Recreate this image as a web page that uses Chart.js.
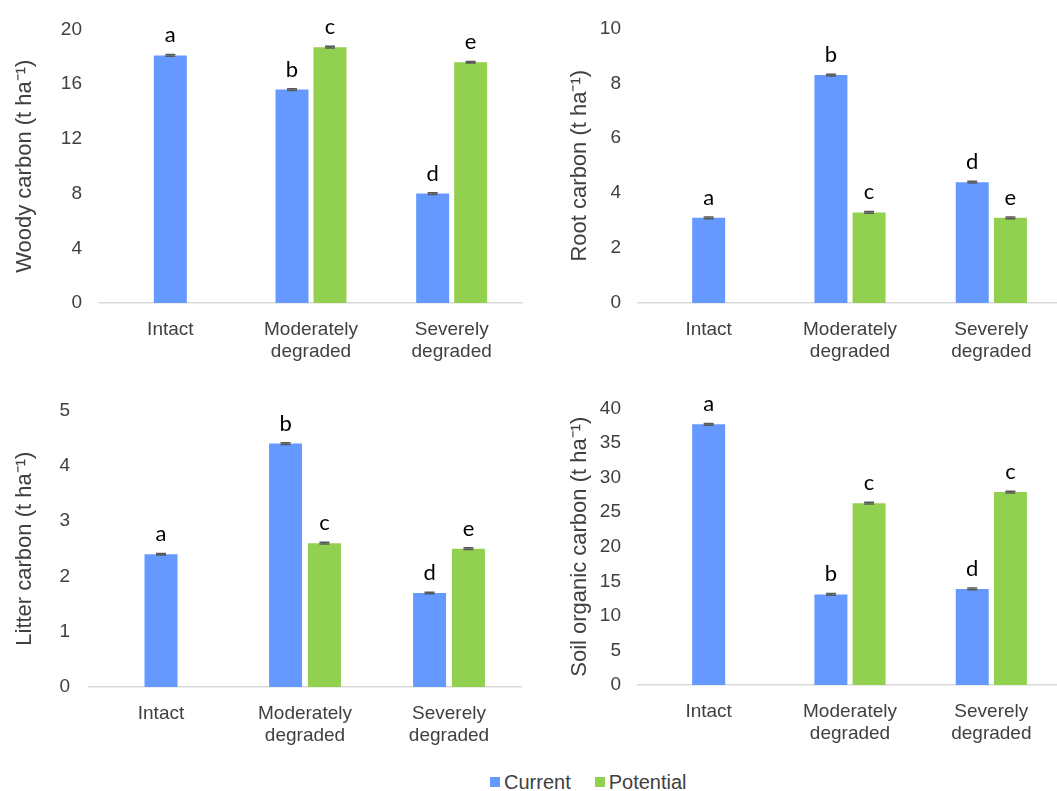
<!DOCTYPE html>
<html>
<head>
<meta charset="utf-8">
<script src="https://cdn.jsdelivr.net/npm/chart.js@4"></script>
<style>
  body { margin: 0; background: #fff; width: 1057px; height: 791px; overflow: hidden; position: relative;
         font-family: "Liberation Sans", Arial, sans-serif; }
  .panel { position: absolute; }
  #legend { position: absolute; top: 772px; left: 490px; height: 20px; display: flex; align-items: center;
            font-size: 20px; line-height: 20px; color: #404040; white-space: nowrap; }
  #legend .sw { display: inline-block; width: 10px; height: 10px; margin-right: 4px; }
  #legend .gap { width: 24px; }
</style>
</head>
<body>
<div class="panel" style="left:0;top:0"><canvas id="woody" width="530" height="380"></canvas></div>
<div class="panel" style="left:530px;top:0"><canvas id="root" width="540" height="380"></canvas></div>
<div class="panel" style="left:0;top:380px"><canvas id="litter" width="530" height="390"></canvas></div>
<div class="panel" style="left:530px;top:380px"><canvas id="soc" width="540" height="390"></canvas></div>
<div id="legend">
  <span class="sw" style="background:#6699ff"></span><span>Current</span>
  <span class="gap"></span>
  <span class="sw" style="background:#92d050"></span><span>Potential</span>
</div>
<script>
const categories = [['Intact'], ['Moderately', 'degraded'], ['Severely', 'degraded']];

const woodyCurrent = [18.1, 15.6, 8.0];
const woodyPotential = [null, 18.7, 17.6];
const woodyErrCurrent = [0.06, 0.06, 0.06];
const woodyErrPotential = [null, 0.06, 0.06];
const woodyLettersCurrent = ['a', 'b', 'd'];
const woodyLettersPotential = [null, 'c', 'e'];

const rootCurrent = [3.1, 8.3, 4.4];
const rootPotential = [null, 3.3, 3.1];
const rootErrCurrent = [0.03, 0.03, 0.03];
const rootErrPotential = [null, 0.03, 0.03];
const rootLettersCurrent = ['a', 'b', 'd'];
const rootLettersPotential = [null, 'c', 'e'];

const litterCurrent = [2.4, 4.4, 1.7];
const litterPotential = [null, 2.6, 2.5];
const litterErrCurrent = [0.015, 0.015, 0.015];
const litterErrPotential = [null, 0.015, 0.015];
const litterLettersCurrent = ['a', 'b', 'd'];
const litterLettersPotential = [null, 'c', 'e'];

const socCurrent = [37.7, 13.1, 13.9];
const socPotential = [null, 26.3, 27.9];
const socErrCurrent = [0.12, 0.12, 0.12];
const socErrPotential = [null, 0.12, 0.12];
const socLettersCurrent = ['a', 'b', 'd'];
const socLettersPotential = [null, 'c', 'c'];

const BLUE = '#6699ff';
const GREEN = '#92d050';
const TEXT = '#404040';

// error caps + significance letters on top of every bar
const marks = {
  id: 'marks',
  afterDatasetsDraw(chart) {
    const ctx = chart.ctx;
    const y = chart.scales.y;
    chart.data.datasets.forEach((ds, di) => {
      const meta = chart.getDatasetMeta(di);
      meta.data.forEach((bar, i) => {
        const v = ds.data[i];
        if (v == null) return;
        const e = ds.errors[i] || 0;
        const yt = y.getPixelForValue(v + e);
        const yb = y.getPixelForValue(v - e);
        ctx.save();
        ctx.strokeStyle = '#595959';
        ctx.lineWidth = 1.5;
        ctx.beginPath();
        ctx.moveTo(bar.x - 5, yt); ctx.lineTo(bar.x + 5, yt);
        ctx.moveTo(bar.x - 5, yb); ctx.lineTo(bar.x + 5, yb);
        ctx.moveTo(bar.x, yt); ctx.lineTo(bar.x, yb);
        ctx.stroke();
        if (ds.letters[i]) {
          ctx.fillStyle = '#000';
          ctx.font = '22px Lato, "Open Sans", sans-serif';
          ctx.textAlign = 'center';
          ctx.textBaseline = 'alphabetic';
          ctx.fillText(ds.letters[i], bar.x, y.getPixelForValue(v) - 13);
        }
        ctx.restore();
      });
    });
  }
};

function makePanel(id, title, cur, pot, errCur, errPot, letCur, letPot, yMax, yStep, lay) {
  return new Chart(document.getElementById(id), {
    type: 'bar',
    data: {
      labels: categories,
      datasets: [
        { label: 'Current', data: cur, errors: errCur, letters: letCur, backgroundColor: BLUE },
        { label: 'Potential', data: pot, errors: errPot, letters: letPot, backgroundColor: GREEN }
      ]
    },
    options: {
      responsive: false,
      animation: false,
      layout: { padding: { top: lay.top, right: lay.right, left: 0, bottom: 0 } },
      datasets: { bar: { skipNull: true, categoryPercentage: 0.54, barPercentage: 0.87, maxBarThickness: 33 } },
      plugins: { legend: { display: false }, tooltip: { enabled: false } },
      scales: {
        x: {
          grid: { display: false, drawTicks: false },
          border: { display: true, color: '#d9d9d9', width: 1.5 },
          ticks: { color: TEXT, font: { family: '"Liberation Sans", Arial', size: 19, lineHeight: 1.2 }, padding: 15, maxRotation: 0 },
          afterFit(s) { s.height = lay.xh; }
        },
        y: {
          min: 0, max: yMax,
          grid: { display: false, drawTicks: false },
          border: { display: false },
          ticks: { stepSize: yStep, color: TEXT, font: { family: '"Liberation Sans", Arial', size: 19 }, padding: lay.tp },
          title: { display: true, text: title, color: TEXT, font: { family: '"Liberation Sans", Arial', size: 22 }, padding: { top: lay.titlePad, bottom: 0 } },
          afterFit(s) { s.width = lay.yw; }
        }
      }
    },
    plugins: [marks]
  });
}

makePanel('woody', 'Woody carbon (t ha\u207B\u00B9)', woodyCurrent, woodyPotential, woodyErrCurrent, woodyErrPotential,
  woodyLettersCurrent, woodyLettersPotential, 20, 4, { top: 21, right: 8, xh: 77, yw: 100, tp: 18, titlePad: 11.8 });
makePanel('root', 'Root carbon (t ha\u207B\u00B9)', rootCurrent, rootPotential, rootErrCurrent, rootErrPotential,
  rootLettersCurrent, rootLettersPotential, 10, 2, { top: 21, right: 8, xh: 77, yw: 108, tp: 17, titlePad: 36.8 });
makePanel('litter', 'Litter carbon (t ha\u207B\u00B9)', litterCurrent, litterPotential, litterErrCurrent, litterErrPotential,
  litterLettersCurrent, litterLettersPotential, 5, 1, { top: 25, right: 9, xh: 83, yw: 89, tp: 19, titlePad: 11.8 });
makePanel('soc', 'Soil organic carbon (t ha\u207B\u00B9)', socCurrent, socPotential, socErrCurrent, socErrPotential,
  socLettersCurrent, socLettersPotential, 40, 5, { top: 24, right: 8, xh: 85, yw: 108, tp: 17, titlePad: 36.8 });
</script>
</body>
</html>
